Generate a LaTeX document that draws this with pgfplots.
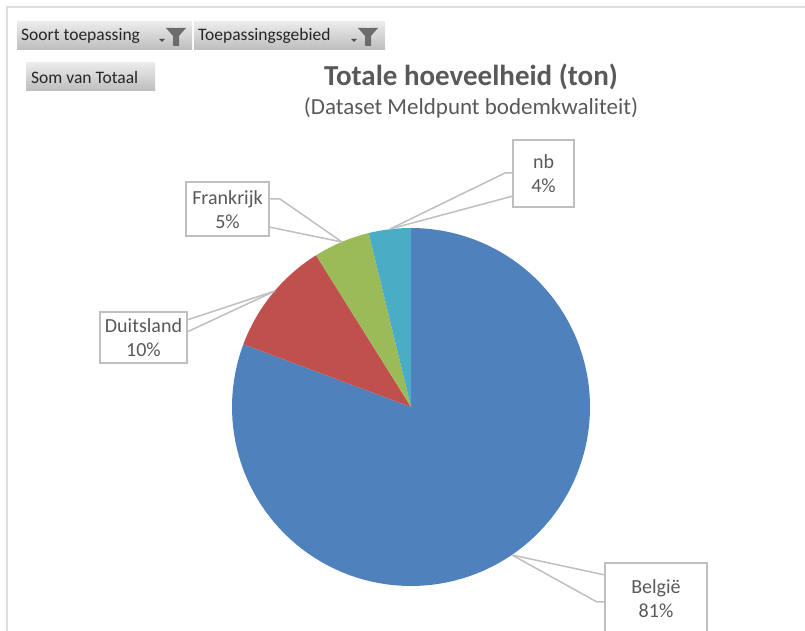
\documentclass[border=0pt]{standalone}
\usepackage{fontspec}
\setmainfont{Carlito}
\usepackage{pgfplots}
\pgfplotsset{compat=1.18}
\definecolor{sBE}{HTML}{4F81BD}
\definecolor{sDE}{HTML}{C0504D}
\definecolor{sFR}{HTML}{9BBB59}
\definecolor{sNB}{HTML}{4BACC6}
\definecolor{txt}{HTML}{595959}
\definecolor{lead}{HTML}{BFBFBF}
\definecolor{btntop}{HTML}{EBEBEB}
\definecolor{btnbot}{HTML}{BDBDBD}

% share of each slice (%): Belgie 80.7, Duitsland 10.4, Frankrijk 5.1, nb 3.8
% #1 colour, #2 cumulative start, #3 cumulative end (percent, clockwise from 12 o'clock)
\newcommand{\slice}[3]{%
  \addplot[fill=#1, draw=none, variable=\t, samples=120, domain=90-3.6*#3:90-3.6*#2]
    ({411+179*cos(t)},{224+179*sin(t)}) -- (411,224) -- cycle;}

\newcommand{\button}[4]{% x0 y0 x1 y1
  \shade[top color=btntop, bottom color=btnbot] (#1,#2) rectangle (#3,#4);}
\newcommand{\funnel}[1]{% left x of icon
  \fill[gray!85!black] (#1,603) -- (#1+20,603) -- (#1+13,595) -- (#1+13,585)
    -- (#1+7,585) -- (#1+7,595) -- cycle;
  \fill[black!70] (#1-7,592) -- (#1-1,592) -- (#1-4,589) -- cycle;}

\begin{document}
\begin{tikzpicture}
\begin{axis}[
  width=805pt, height=631pt, scale only axis,
  xmin=0, xmax=805, ymin=0, ymax=631,
  hide axis, clip=false,
]
% frame
\draw[black!13, line width=1.5pt] (7,0) -- (7,624) -- (805,624);

% pie
\slice{sBE}{0}{80.7}
\slice{sDE}{80.7}{91.1}
\slice{sFR}{91.1}{96.2}
\slice{sNB}{96.2}{100}

% buttons
\button{17}{581}{192}{609}
\button{194}{581}{385}{609}
\button{26}{540}{155}{568}
\funnel{166}
\funnel{358}
\node[anchor=west, text=black!85, font=\fontsize{17.5}{20}\selectfont, inner sep=0pt] at (21,595) {Soort toepassing};
\node[anchor=west, text=black!85, font=\fontsize{17.5}{20}\selectfont, inner sep=0pt] at (198,595) {Toepassingsgebied};
\node[anchor=west, text=black!85, font=\fontsize{17.5}{20}\selectfont, inner sep=0pt] at (31,554) {Som van Totaal};

% titles
\node[text=txt, font=\bfseries\fontsize{29}{34}\selectfont] at (471,554) {Totale hoeveelheid (ton)};
\node[text=txt, font=\fontsize{23}{27}\selectfont] at (471,523) {(Dataset Meldpunt bodemkwaliteit)};

% leader lines
\draw[lead, line width=1.5pt] (390,402) -- (505,458) -- (513,458);
\draw[lead, line width=1.5pt] (390,402) -- (513,435);
\draw[lead, line width=1.5pt] (342,389) -- (280,432) -- (269,432);
\draw[lead, line width=1.5pt] (342,389) -- (269,404);
\draw[lead, line width=1.5pt] (275,340) -- (187,311);
\draw[lead, line width=1.5pt] (275,340) -- (187,299);
\draw[lead, line width=1.5pt] (512,76) -- (605,56);
\draw[lead, line width=1.5pt] (512,76) -- (597,29) -- (605,29);

% label boxes
\draw[lead, line width=1.5pt, fill=white] (513,424) rectangle (574,491);
\draw[lead, line width=1.5pt, fill=white] (186,395) rectangle (269,449);
\draw[lead, line width=1.5pt, fill=white] (100,268) rectangle (187,319);
\draw[lead, line width=1.5pt, fill=white] (605,-12) rectangle (707,68);
\node[text=txt, align=center, font=\fontsize{20}{24}\selectfont] at (543.5,457.5) {nb\\4\%};
\node[text=txt, align=center, font=\fontsize{20}{24}\selectfont] at (227.5,421) {Frankrijk\\5\%};
\node[text=txt, align=center, font=\fontsize{20}{24}\selectfont] at (143.5,293) {Duitsland\\10\%};
\node[text=txt, align=center, font=\fontsize{20}{24}\selectfont] at (656,32) {België\\81\%};
\end{axis}
\pgfresetboundingbox
\path (current axis.south west) rectangle (current axis.north east);
\end{tikzpicture}
\end{document}
